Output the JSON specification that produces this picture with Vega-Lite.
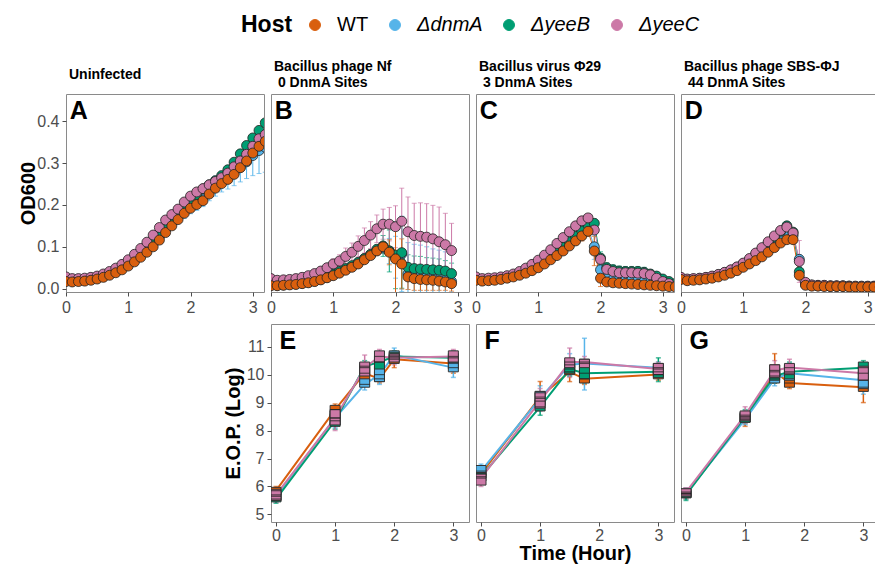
{
"$schema": "https://vega.github.io/schema/vega-lite/v6.json",
"background": "white",
"padding": {"left": 18, "top": 15, "right": 0, "bottom": 0},
"config": {
  "font": "Liberation Sans",
  "view": {"stroke": "#8a8a8a", "strokeWidth": 1},
  "axis": {"labelFont": "Liberation Sans", "labelFontSize": 16, "labelColor": "#4d4d4d", "tickColor": "#4d4d4d", "tickSize": 4, "domain": false, "grid": false, "titleFont": "Liberation Sans", "titleFontSize": 20, "titleFontWeight": "bold", "titleColor": "#000", "labelFlush": false, "labelOverlap": false, "labelPadding": 3, "titlePadding": 3},
  "title": {"font": "Liberation Sans", "fontSize": 14, "fontWeight": "bold", "anchor": "start", "frame": "group", "color": "#000", "lineHeight": 16, "dx": 3, "offset": 4},
  "legend": {"labelFont": "Liberation Sans", "labelFontSize": 20, "labelColor": "#000", "titleFont": "Liberation Sans", "titleFontSize": 23, "titleFontWeight": "bold", "titleColor": "#000", "symbolType": "circle", "symbolSize": 120, "symbolStrokeColor": "#333", "symbolStrokeWidth": 1, "columnPadding": 16, "labelOffset": 12}
},
"datasets": {
"od": [
{"p":"A","h":"dnmA","t":0,"y":0.02,"e":0.002},{"p":"A","h":"dnmA","t":0.1,"y":0.018,"e":0.002},{"p":"A","h":"dnmA","t":0.2,"y":0.019,"e":0.002},{"p":"A","h":"dnmA","t":0.3,"y":0.02,"e":0.002},{"p":"A","h":"dnmA","t":0.4,"y":0.022,"e":0.002},{"p":"A","h":"dnmA","t":0.5,"y":0.025,"e":0.002},{"p":"A","h":"dnmA","t":0.6,"y":0.029,"e":0.003},{"p":"A","h":"dnmA","t":0.7,"y":0.035,"e":0.003},{"p":"A","h":"dnmA","t":0.8,"y":0.041,"e":0.003},{"p":"A","h":"dnmA","t":0.9,"y":0.049,"e":0.004},{"p":"A","h":"dnmA","t":1,"y":0.058,"e":0.004},{"p":"A","h":"dnmA","t":1.1,"y":0.069,"e":0.005},{"p":"A","h":"dnmA","t":1.2,"y":0.081,"e":0.006},{"p":"A","h":"dnmA","t":1.3,"y":0.094,"e":0.007},{"p":"A","h":"dnmA","t":1.4,"y":0.108,"e":0.008},{"p":"A","h":"dnmA","t":1.5,"y":0.124,"e":0.01},{"p":"A","h":"dnmA","t":1.6,"y":0.142,"e":0.012},{"p":"A","h":"dnmA","t":1.7,"y":0.158,"e":0.014},{"p":"A","h":"dnmA","t":1.8,"y":0.172,"e":0.016},{"p":"A","h":"dnmA","t":1.9,"y":0.186,"e":0.018},{"p":"A","h":"dnmA","t":2,"y":0.198,"e":0.019},{"p":"A","h":"dnmA","t":2.1,"y":0.207,"e":0.02},{"p":"A","h":"dnmA","t":2.2,"y":0.217,"e":0.021},{"p":"A","h":"dnmA","t":2.3,"y":0.232,"e":0.022},{"p":"A","h":"dnmA","t":2.4,"y":0.245,"e":0.024},{"p":"A","h":"dnmA","t":2.5,"y":0.256,"e":0.025},{"p":"A","h":"dnmA","t":2.6,"y":0.265,"e":0.027},{"p":"A","h":"dnmA","t":2.7,"y":0.276,"e":0.03},{"p":"A","h":"dnmA","t":2.8,"y":0.29,"e":0.035},{"p":"A","h":"dnmA","t":2.9,"y":0.303,"e":0.04},{"p":"A","h":"dnmA","t":3,"y":0.318,"e":0.048},{"p":"A","h":"dnmA","t":3.1,"y":0.33,"e":0.055},{"p":"A","h":"dnmA","t":3.2,"y":0.338,"e":0.06},
{"p":"A","h":"yeeB","t":0,"y":0.022,"e":0.003},{"p":"A","h":"yeeB","t":0.1,"y":0.02,"e":0.003},{"p":"A","h":"yeeB","t":0.2,"y":0.021,"e":0.003},{"p":"A","h":"yeeB","t":0.3,"y":0.022,"e":0.003},{"p":"A","h":"yeeB","t":0.4,"y":0.024,"e":0.003},{"p":"A","h":"yeeB","t":0.5,"y":0.027,"e":0.003},{"p":"A","h":"yeeB","t":0.6,"y":0.031,"e":0.003},{"p":"A","h":"yeeB","t":0.7,"y":0.037,"e":0.003},{"p":"A","h":"yeeB","t":0.8,"y":0.044,"e":0.003},{"p":"A","h":"yeeB","t":0.9,"y":0.052,"e":0.003},{"p":"A","h":"yeeB","t":1,"y":0.062,"e":0.003},{"p":"A","h":"yeeB","t":1.1,"y":0.073,"e":0.003},{"p":"A","h":"yeeB","t":1.2,"y":0.086,"e":0.003},{"p":"A","h":"yeeB","t":1.3,"y":0.1,"e":0.003},{"p":"A","h":"yeeB","t":1.4,"y":0.115,"e":0.003},{"p":"A","h":"yeeB","t":1.5,"y":0.132,"e":0.003},{"p":"A","h":"yeeB","t":1.6,"y":0.15,"e":0.003},{"p":"A","h":"yeeB","t":1.7,"y":0.166,"e":0.003},{"p":"A","h":"yeeB","t":1.8,"y":0.18,"e":0.003},{"p":"A","h":"yeeB","t":1.9,"y":0.195,"e":0.003},{"p":"A","h":"yeeB","t":2,"y":0.21,"e":0.003},{"p":"A","h":"yeeB","t":2.1,"y":0.225,"e":0.004},{"p":"A","h":"yeeB","t":2.2,"y":0.238,"e":0.004},{"p":"A","h":"yeeB","t":2.3,"y":0.248,"e":0.004},{"p":"A","h":"yeeB","t":2.4,"y":0.258,"e":0.004},{"p":"A","h":"yeeB","t":2.5,"y":0.27,"e":0.004},{"p":"A","h":"yeeB","t":2.6,"y":0.284,"e":0.005},{"p":"A","h":"yeeB","t":2.7,"y":0.302,"e":0.005},{"p":"A","h":"yeeB","t":2.8,"y":0.322,"e":0.005},{"p":"A","h":"yeeB","t":2.9,"y":0.342,"e":0.005},{"p":"A","h":"yeeB","t":3,"y":0.36,"e":0.005},{"p":"A","h":"yeeB","t":3.1,"y":0.378,"e":0.005},{"p":"A","h":"yeeB","t":3.2,"y":0.396,"e":0.005},
{"p":"A","h":"yeeC","t":0,"y":0.028,"e":0.003},{"p":"A","h":"yeeC","t":0.1,"y":0.024,"e":0.003},{"p":"A","h":"yeeC","t":0.2,"y":0.024,"e":0.003},{"p":"A","h":"yeeC","t":0.3,"y":0.025,"e":0.003},{"p":"A","h":"yeeC","t":0.4,"y":0.027,"e":0.003},{"p":"A","h":"yeeC","t":0.5,"y":0.03,"e":0.003},{"p":"A","h":"yeeC","t":0.6,"y":0.035,"e":0.003},{"p":"A","h":"yeeC","t":0.7,"y":0.041,"e":0.003},{"p":"A","h":"yeeC","t":0.8,"y":0.049,"e":0.003},{"p":"A","h":"yeeC","t":0.9,"y":0.058,"e":0.003},{"p":"A","h":"yeeC","t":1,"y":0.069,"e":0.003},{"p":"A","h":"yeeC","t":1.1,"y":0.082,"e":0.003},{"p":"A","h":"yeeC","t":1.2,"y":0.096,"e":0.003},{"p":"A","h":"yeeC","t":1.3,"y":0.111,"e":0.003},{"p":"A","h":"yeeC","t":1.4,"y":0.128,"e":0.003},{"p":"A","h":"yeeC","t":1.5,"y":0.146,"e":0.003},{"p":"A","h":"yeeC","t":1.6,"y":0.164,"e":0.003},{"p":"A","h":"yeeC","t":1.7,"y":0.177,"e":0.003},{"p":"A","h":"yeeC","t":1.8,"y":0.19,"e":0.003},{"p":"A","h":"yeeC","t":1.9,"y":0.207,"e":0.003},{"p":"A","h":"yeeC","t":2,"y":0.221,"e":0.003},{"p":"A","h":"yeeC","t":2.1,"y":0.231,"e":0.004},{"p":"A","h":"yeeC","t":2.2,"y":0.239,"e":0.004},{"p":"A","h":"yeeC","t":2.3,"y":0.248,"e":0.004},{"p":"A","h":"yeeC","t":2.4,"y":0.256,"e":0.004},{"p":"A","h":"yeeC","t":2.5,"y":0.265,"e":0.004},{"p":"A","h":"yeeC","t":2.6,"y":0.276,"e":0.004},{"p":"A","h":"yeeC","t":2.7,"y":0.291,"e":0.004},{"p":"A","h":"yeeC","t":2.8,"y":0.305,"e":0.005},{"p":"A","h":"yeeC","t":2.9,"y":0.321,"e":0.005},{"p":"A","h":"yeeC","t":3,"y":0.34,"e":0.005},{"p":"A","h":"yeeC","t":3.1,"y":0.358,"e":0.005},{"p":"A","h":"yeeC","t":3.2,"y":0.368,"e":0.005},
{"p":"A","h":"WT","t":0,"y":0.017,"e":0.003},{"p":"A","h":"WT","t":0.1,"y":0.016,"e":0.003},{"p":"A","h":"WT","t":0.2,"y":0.017,"e":0.003},{"p":"A","h":"WT","t":0.3,"y":0.018,"e":0.003},{"p":"A","h":"WT","t":0.4,"y":0.02,"e":0.003},{"p":"A","h":"WT","t":0.5,"y":0.023,"e":0.003},{"p":"A","h":"WT","t":0.6,"y":0.027,"e":0.003},{"p":"A","h":"WT","t":0.7,"y":0.032,"e":0.003},{"p":"A","h":"WT","t":0.8,"y":0.038,"e":0.003},{"p":"A","h":"WT","t":0.9,"y":0.045,"e":0.003},{"p":"A","h":"WT","t":1,"y":0.054,"e":0.003},{"p":"A","h":"WT","t":1.1,"y":0.064,"e":0.003},{"p":"A","h":"WT","t":1.2,"y":0.075,"e":0.003},{"p":"A","h":"WT","t":1.3,"y":0.087,"e":0.003},{"p":"A","h":"WT","t":1.4,"y":0.1,"e":0.003},{"p":"A","h":"WT","t":1.5,"y":0.116,"e":0.003},{"p":"A","h":"WT","t":1.6,"y":0.134,"e":0.003},{"p":"A","h":"WT","t":1.7,"y":0.15,"e":0.003},{"p":"A","h":"WT","t":1.8,"y":0.165,"e":0.003},{"p":"A","h":"WT","t":1.9,"y":0.18,"e":0.003},{"p":"A","h":"WT","t":2,"y":0.192,"e":0.003},{"p":"A","h":"WT","t":2.1,"y":0.201,"e":0.004},{"p":"A","h":"WT","t":2.2,"y":0.21,"e":0.004},{"p":"A","h":"WT","t":2.3,"y":0.226,"e":0.004},{"p":"A","h":"WT","t":2.4,"y":0.24,"e":0.004},{"p":"A","h":"WT","t":2.5,"y":0.251,"e":0.004},{"p":"A","h":"WT","t":2.6,"y":0.261,"e":0.004},{"p":"A","h":"WT","t":2.7,"y":0.273,"e":0.004},{"p":"A","h":"WT","t":2.8,"y":0.289,"e":0.005},{"p":"A","h":"WT","t":2.9,"y":0.305,"e":0.005},{"p":"A","h":"WT","t":3,"y":0.324,"e":0.005},{"p":"A","h":"WT","t":3.1,"y":0.34,"e":0.005},{"p":"A","h":"WT","t":3.2,"y":0.352,"e":0.005},
{"p":"B","h":"dnmA","t":0,"y":0.009,"e":0.002},{"p":"B","h":"dnmA","t":0.1,"y":0.008,"e":0.002},{"p":"B","h":"dnmA","t":0.2,"y":0.009,"e":0.002},{"p":"B","h":"dnmA","t":0.3,"y":0.01,"e":0.002},{"p":"B","h":"dnmA","t":0.4,"y":0.011,"e":0.002},{"p":"B","h":"dnmA","t":0.5,"y":0.013,"e":0.002},{"p":"B","h":"dnmA","t":0.6,"y":0.015,"e":0.002},{"p":"B","h":"dnmA","t":0.7,"y":0.018,"e":0.003},{"p":"B","h":"dnmA","t":0.8,"y":0.022,"e":0.003},{"p":"B","h":"dnmA","t":0.9,"y":0.027,"e":0.003},{"p":"B","h":"dnmA","t":1,"y":0.033,"e":0.004},{"p":"B","h":"dnmA","t":1.1,"y":0.039,"e":0.004},{"p":"B","h":"dnmA","t":1.2,"y":0.046,"e":0.005},{"p":"B","h":"dnmA","t":1.3,"y":0.053,"e":0.005},{"p":"B","h":"dnmA","t":1.4,"y":0.061,"e":0.006},{"p":"B","h":"dnmA","t":1.5,"y":0.071,"e":0.006},{"p":"B","h":"dnmA","t":1.6,"y":0.081,"e":0.007},{"p":"B","h":"dnmA","t":1.7,"y":0.091,"e":0.008},{"p":"B","h":"dnmA","t":1.8,"y":0.097,"e":0.01},{"p":"B","h":"dnmA","t":1.9,"y":0.09,"e":0.03},{"p":"B","h":"dnmA","t":2,"y":0.075,"e":0.05},{"p":"B","h":"dnmA","t":2.1,"y":0.083,"e":0.09},{"p":"B","h":"dnmA","t":2.2,"y":0.035,"e":0.075},{"p":"B","h":"dnmA","t":2.3,"y":0.031,"e":0.075},{"p":"B","h":"dnmA","t":2.4,"y":0.029,"e":0.075},{"p":"B","h":"dnmA","t":2.5,"y":0.027,"e":0.073},{"p":"B","h":"dnmA","t":2.6,"y":0.025,"e":0.07},{"p":"B","h":"dnmA","t":2.7,"y":0.022,"e":0.07},{"p":"B","h":"dnmA","t":2.8,"y":0.02,"e":0.068},{"p":"B","h":"dnmA","t":2.9,"y":0.017,"e":0.065},
{"p":"B","h":"yeeB","t":0,"y":0.01,"e":0.002},{"p":"B","h":"yeeB","t":0.1,"y":0.009,"e":0.002},{"p":"B","h":"yeeB","t":0.2,"y":0.01,"e":0.002},{"p":"B","h":"yeeB","t":0.3,"y":0.011,"e":0.002},{"p":"B","h":"yeeB","t":0.4,"y":0.012,"e":0.002},{"p":"B","h":"yeeB","t":0.5,"y":0.014,"e":0.002},{"p":"B","h":"yeeB","t":0.6,"y":0.017,"e":0.002},{"p":"B","h":"yeeB","t":0.7,"y":0.02,"e":0.002},{"p":"B","h":"yeeB","t":0.8,"y":0.024,"e":0.002},{"p":"B","h":"yeeB","t":0.9,"y":0.029,"e":0.002},{"p":"B","h":"yeeB","t":1,"y":0.035,"e":0.003},{"p":"B","h":"yeeB","t":1.1,"y":0.041,"e":0.003},{"p":"B","h":"yeeB","t":1.2,"y":0.048,"e":0.004},{"p":"B","h":"yeeB","t":1.3,"y":0.055,"e":0.004},{"p":"B","h":"yeeB","t":1.4,"y":0.063,"e":0.005},{"p":"B","h":"yeeB","t":1.5,"y":0.072,"e":0.006},{"p":"B","h":"yeeB","t":1.6,"y":0.082,"e":0.007},{"p":"B","h":"yeeB","t":1.7,"y":0.094,"e":0.01},{"p":"B","h":"yeeB","t":1.8,"y":0.102,"e":0.025},{"p":"B","h":"yeeB","t":1.9,"y":0.09,"e":0.05},{"p":"B","h":"yeeB","t":2,"y":0.08,"e":0.08},{"p":"B","h":"yeeB","t":2.1,"y":0.086,"e":0.085},{"p":"B","h":"yeeB","t":2.2,"y":0.051,"e":0.03},{"p":"B","h":"yeeB","t":2.3,"y":0.048,"e":0.03},{"p":"B","h":"yeeB","t":2.4,"y":0.047,"e":0.03},{"p":"B","h":"yeeB","t":2.5,"y":0.046,"e":0.028},{"p":"B","h":"yeeB","t":2.6,"y":0.045,"e":0.028},{"p":"B","h":"yeeB","t":2.7,"y":0.044,"e":0.027},{"p":"B","h":"yeeB","t":2.8,"y":0.042,"e":0.025},{"p":"B","h":"yeeB","t":2.9,"y":0.036,"e":0.025},
{"p":"B","h":"yeeC","t":0,"y":0.024,"e":0.003},{"p":"B","h":"yeeC","t":0.1,"y":0.02,"e":0.003},{"p":"B","h":"yeeC","t":0.2,"y":0.021,"e":0.004},{"p":"B","h":"yeeC","t":0.3,"y":0.022,"e":0.004},{"p":"B","h":"yeeC","t":0.4,"y":0.024,"e":0.005},{"p":"B","h":"yeeC","t":0.5,"y":0.027,"e":0.006},{"p":"B","h":"yeeC","t":0.6,"y":0.031,"e":0.007},{"p":"B","h":"yeeC","t":0.7,"y":0.036,"e":0.008},{"p":"B","h":"yeeC","t":0.8,"y":0.042,"e":0.009},{"p":"B","h":"yeeC","t":0.9,"y":0.05,"e":0.01},{"p":"B","h":"yeeC","t":1,"y":0.059,"e":0.012},{"p":"B","h":"yeeC","t":1.1,"y":0.066,"e":0.015},{"p":"B","h":"yeeC","t":1.2,"y":0.077,"e":0.02},{"p":"B","h":"yeeC","t":1.3,"y":0.087,"e":0.022},{"p":"B","h":"yeeC","t":1.4,"y":0.101,"e":0.025},{"p":"B","h":"yeeC","t":1.5,"y":0.115,"e":0.03},{"p":"B","h":"yeeC","t":1.6,"y":0.128,"e":0.032},{"p":"B","h":"yeeC","t":1.7,"y":0.143,"e":0.033},{"p":"B","h":"yeeC","t":1.8,"y":0.154,"e":0.036},{"p":"B","h":"yeeC","t":1.9,"y":0.154,"e":0.04},{"p":"B","h":"yeeC","t":2,"y":0.148,"e":0.05},{"p":"B","h":"yeeC","t":2.1,"y":0.161,"e":0.079},{"p":"B","h":"yeeC","t":2.2,"y":0.136,"e":0.083},{"p":"B","h":"yeeC","t":2.3,"y":0.127,"e":0.077},{"p":"B","h":"yeeC","t":2.4,"y":0.125,"e":0.08},{"p":"B","h":"yeeC","t":2.5,"y":0.123,"e":0.08},{"p":"B","h":"yeeC","t":2.6,"y":0.119,"e":0.08},{"p":"B","h":"yeeC","t":2.7,"y":0.112,"e":0.083},{"p":"B","h":"yeeC","t":2.8,"y":0.105,"e":0.075},{"p":"B","h":"yeeC","t":2.9,"y":0.091,"e":0.065},
{"p":"B","h":"WT","t":0,"y":0.007,"e":0.002},{"p":"B","h":"WT","t":0.1,"y":0.007,"e":0.002},{"p":"B","h":"WT","t":0.2,"y":0.008,"e":0.002},{"p":"B","h":"WT","t":0.3,"y":0.009,"e":0.002},{"p":"B","h":"WT","t":0.4,"y":0.01,"e":0.002},{"p":"B","h":"WT","t":0.5,"y":0.012,"e":0.002},{"p":"B","h":"WT","t":0.6,"y":0.014,"e":0.002},{"p":"B","h":"WT","t":0.7,"y":0.017,"e":0.002},{"p":"B","h":"WT","t":0.8,"y":0.021,"e":0.002},{"p":"B","h":"WT","t":0.9,"y":0.026,"e":0.002},{"p":"B","h":"WT","t":1,"y":0.031,"e":0.003},{"p":"B","h":"WT","t":1.1,"y":0.037,"e":0.003},{"p":"B","h":"WT","t":1.2,"y":0.044,"e":0.003},{"p":"B","h":"WT","t":1.3,"y":0.051,"e":0.004},{"p":"B","h":"WT","t":1.4,"y":0.059,"e":0.004},{"p":"B","h":"WT","t":1.5,"y":0.069,"e":0.005},{"p":"B","h":"WT","t":1.6,"y":0.079,"e":0.006},{"p":"B","h":"WT","t":1.7,"y":0.09,"e":0.008},{"p":"B","h":"WT","t":1.8,"y":0.1,"e":0.01},{"p":"B","h":"WT","t":1.9,"y":0.087,"e":0.03},{"p":"B","h":"WT","t":2,"y":0.071,"e":0.083},{"p":"B","h":"WT","t":2.1,"y":0.059,"e":0.06},{"p":"B","h":"WT","t":2.2,"y":0.028,"e":0.03},{"p":"B","h":"WT","t":2.3,"y":0.024,"e":0.028},{"p":"B","h":"WT","t":2.4,"y":0.022,"e":0.026},{"p":"B","h":"WT","t":2.5,"y":0.021,"e":0.025},{"p":"B","h":"WT","t":2.6,"y":0.02,"e":0.024},{"p":"B","h":"WT","t":2.7,"y":0.018,"e":0.022},{"p":"B","h":"WT","t":2.8,"y":0.016,"e":0.02},{"p":"B","h":"WT","t":2.9,"y":0.012,"e":0.018},
{"p":"C","h":"dnmA","t":0,"y":0.022,"e":0.003},{"p":"C","h":"dnmA","t":0.1,"y":0.02,"e":0.003},{"p":"C","h":"dnmA","t":0.2,"y":0.021,"e":0.003},{"p":"C","h":"dnmA","t":0.3,"y":0.022,"e":0.003},{"p":"C","h":"dnmA","t":0.4,"y":0.024,"e":0.003},{"p":"C","h":"dnmA","t":0.5,"y":0.027,"e":0.003},{"p":"C","h":"dnmA","t":0.6,"y":0.031,"e":0.003},{"p":"C","h":"dnmA","t":0.7,"y":0.035,"e":0.003},{"p":"C","h":"dnmA","t":0.8,"y":0.041,"e":0.003},{"p":"C","h":"dnmA","t":0.9,"y":0.048,"e":0.003},{"p":"C","h":"dnmA","t":1,"y":0.056,"e":0.003},{"p":"C","h":"dnmA","t":1.1,"y":0.065,"e":0.004},{"p":"C","h":"dnmA","t":1.2,"y":0.075,"e":0.004},{"p":"C","h":"dnmA","t":1.3,"y":0.086,"e":0.004},{"p":"C","h":"dnmA","t":1.4,"y":0.097,"e":0.005},{"p":"C","h":"dnmA","t":1.5,"y":0.109,"e":0.005},{"p":"C","h":"dnmA","t":1.6,"y":0.121,"e":0.006},{"p":"C","h":"dnmA","t":1.7,"y":0.134,"e":0.006},{"p":"C","h":"dnmA","t":1.8,"y":0.146,"e":0.008},{"p":"C","h":"dnmA","t":1.9,"y":0.1,"e":0.03},{"p":"C","h":"dnmA","t":2,"y":0.045,"e":0.02},{"p":"C","h":"dnmA","t":2.1,"y":0.024,"e":0.005},{"p":"C","h":"dnmA","t":2.2,"y":0.022,"e":0.004},{"p":"C","h":"dnmA","t":2.3,"y":0.021,"e":0.004},{"p":"C","h":"dnmA","t":2.4,"y":0.021,"e":0.004},{"p":"C","h":"dnmA","t":2.5,"y":0.02,"e":0.004},{"p":"C","h":"dnmA","t":2.6,"y":0.019,"e":0.004},{"p":"C","h":"dnmA","t":2.7,"y":0.017,"e":0.004},{"p":"C","h":"dnmA","t":2.8,"y":0.015,"e":0.004},{"p":"C","h":"dnmA","t":2.9,"y":0.013,"e":0.004},{"p":"C","h":"dnmA","t":3,"y":0.011,"e":0.004},{"p":"C","h":"dnmA","t":3.1,"y":0.009,"e":0.004},{"p":"C","h":"dnmA","t":3.2,"y":0.008,"e":0.004},
{"p":"C","h":"yeeB","t":0,"y":0.024,"e":0.003},{"p":"C","h":"yeeB","t":0.1,"y":0.021,"e":0.003},{"p":"C","h":"yeeB","t":0.2,"y":0.022,"e":0.003},{"p":"C","h":"yeeB","t":0.3,"y":0.023,"e":0.003},{"p":"C","h":"yeeB","t":0.4,"y":0.025,"e":0.003},{"p":"C","h":"yeeB","t":0.5,"y":0.028,"e":0.003},{"p":"C","h":"yeeB","t":0.6,"y":0.032,"e":0.003},{"p":"C","h":"yeeB","t":0.7,"y":0.037,"e":0.003},{"p":"C","h":"yeeB","t":0.8,"y":0.043,"e":0.003},{"p":"C","h":"yeeB","t":0.9,"y":0.05,"e":0.003},{"p":"C","h":"yeeB","t":1,"y":0.058,"e":0.003},{"p":"C","h":"yeeB","t":1.1,"y":0.067,"e":0.003},{"p":"C","h":"yeeB","t":1.2,"y":0.077,"e":0.003},{"p":"C","h":"yeeB","t":1.3,"y":0.088,"e":0.003},{"p":"C","h":"yeeB","t":1.4,"y":0.1,"e":0.004},{"p":"C","h":"yeeB","t":1.5,"y":0.112,"e":0.004},{"p":"C","h":"yeeB","t":1.6,"y":0.125,"e":0.005},{"p":"C","h":"yeeB","t":1.7,"y":0.138,"e":0.005},{"p":"C","h":"yeeB","t":1.8,"y":0.152,"e":0.006},{"p":"C","h":"yeeB","t":1.9,"y":0.156,"e":0.01},{"p":"C","h":"yeeB","t":2,"y":0.073,"e":0.015},{"p":"C","h":"yeeB","t":2.1,"y":0.05,"e":0.012},{"p":"C","h":"yeeB","t":2.2,"y":0.045,"e":0.012},{"p":"C","h":"yeeB","t":2.3,"y":0.042,"e":0.012},{"p":"C","h":"yeeB","t":2.4,"y":0.041,"e":0.012},{"p":"C","h":"yeeB","t":2.5,"y":0.041,"e":0.012},{"p":"C","h":"yeeB","t":2.6,"y":0.041,"e":0.012},{"p":"C","h":"yeeB","t":2.7,"y":0.039,"e":0.012},{"p":"C","h":"yeeB","t":2.8,"y":0.035,"e":0.01},{"p":"C","h":"yeeB","t":2.9,"y":0.03,"e":0.008},{"p":"C","h":"yeeB","t":3,"y":0.023,"e":0.006},{"p":"C","h":"yeeB","t":3.1,"y":0.017,"e":0.005},{"p":"C","h":"yeeB","t":3.2,"y":0.012,"e":0.004},
{"p":"C","h":"yeeC","t":0,"y":0.028,"e":0.003},{"p":"C","h":"yeeC","t":0.1,"y":0.024,"e":0.003},{"p":"C","h":"yeeC","t":0.2,"y":0.025,"e":0.003},{"p":"C","h":"yeeC","t":0.3,"y":0.026,"e":0.003},{"p":"C","h":"yeeC","t":0.4,"y":0.028,"e":0.003},{"p":"C","h":"yeeC","t":0.5,"y":0.031,"e":0.003},{"p":"C","h":"yeeC","t":0.6,"y":0.035,"e":0.003},{"p":"C","h":"yeeC","t":0.7,"y":0.041,"e":0.003},{"p":"C","h":"yeeC","t":0.8,"y":0.049,"e":0.003},{"p":"C","h":"yeeC","t":0.9,"y":0.058,"e":0.003},{"p":"C","h":"yeeC","t":1,"y":0.068,"e":0.003},{"p":"C","h":"yeeC","t":1.1,"y":0.08,"e":0.003},{"p":"C","h":"yeeC","t":1.2,"y":0.093,"e":0.003},{"p":"C","h":"yeeC","t":1.3,"y":0.108,"e":0.003},{"p":"C","h":"yeeC","t":1.4,"y":0.122,"e":0.004},{"p":"C","h":"yeeC","t":1.5,"y":0.136,"e":0.004},{"p":"C","h":"yeeC","t":1.6,"y":0.15,"e":0.004},{"p":"C","h":"yeeC","t":1.7,"y":0.162,"e":0.004},{"p":"C","h":"yeeC","t":1.8,"y":0.169,"e":0.004},{"p":"C","h":"yeeC","t":1.9,"y":0.14,"e":0.006},{"p":"C","h":"yeeC","t":2,"y":0.07,"e":0.006},{"p":"C","h":"yeeC","t":2.1,"y":0.046,"e":0.004},{"p":"C","h":"yeeC","t":2.2,"y":0.041,"e":0.004},{"p":"C","h":"yeeC","t":2.3,"y":0.038,"e":0.004},{"p":"C","h":"yeeC","t":2.4,"y":0.038,"e":0.004},{"p":"C","h":"yeeC","t":2.5,"y":0.038,"e":0.004},{"p":"C","h":"yeeC","t":2.6,"y":0.037,"e":0.004},{"p":"C","h":"yeeC","t":2.7,"y":0.036,"e":0.004},{"p":"C","h":"yeeC","t":2.8,"y":0.033,"e":0.004},{"p":"C","h":"yeeC","t":2.9,"y":0.025,"e":0.004},{"p":"C","h":"yeeC","t":3,"y":0.017,"e":0.004},{"p":"C","h":"yeeC","t":3.1,"y":0.012,"e":0.003},{"p":"C","h":"yeeC","t":3.2,"y":0.006,"e":0.003},
{"p":"C","h":"WT","t":0,"y":0.02,"e":0.003},{"p":"C","h":"WT","t":0.1,"y":0.018,"e":0.003},{"p":"C","h":"WT","t":0.2,"y":0.019,"e":0.003},{"p":"C","h":"WT","t":0.3,"y":0.02,"e":0.003},{"p":"C","h":"WT","t":0.4,"y":0.022,"e":0.003},{"p":"C","h":"WT","t":0.5,"y":0.025,"e":0.003},{"p":"C","h":"WT","t":0.6,"y":0.028,"e":0.003},{"p":"C","h":"WT","t":0.7,"y":0.032,"e":0.003},{"p":"C","h":"WT","t":0.8,"y":0.037,"e":0.003},{"p":"C","h":"WT","t":0.9,"y":0.043,"e":0.003},{"p":"C","h":"WT","t":1,"y":0.05,"e":0.004},{"p":"C","h":"WT","t":1.1,"y":0.059,"e":0.004},{"p":"C","h":"WT","t":1.2,"y":0.069,"e":0.005},{"p":"C","h":"WT","t":1.3,"y":0.079,"e":0.005},{"p":"C","h":"WT","t":1.4,"y":0.09,"e":0.006},{"p":"C","h":"WT","t":1.5,"y":0.102,"e":0.008},{"p":"C","h":"WT","t":1.6,"y":0.114,"e":0.01},{"p":"C","h":"WT","t":1.7,"y":0.126,"e":0.012},{"p":"C","h":"WT","t":1.8,"y":0.137,"e":0.012},{"p":"C","h":"WT","t":1.9,"y":0.09,"e":0.035},{"p":"C","h":"WT","t":2,"y":0.025,"e":0.02},{"p":"C","h":"WT","t":2.1,"y":0.016,"e":0.003},{"p":"C","h":"WT","t":2.2,"y":0.014,"e":0.003},{"p":"C","h":"WT","t":2.3,"y":0.013,"e":0.003},{"p":"C","h":"WT","t":2.4,"y":0.012,"e":0.003},{"p":"C","h":"WT","t":2.5,"y":0.011,"e":0.003},{"p":"C","h":"WT","t":2.6,"y":0.01,"e":0.003},{"p":"C","h":"WT","t":2.7,"y":0.009,"e":0.003},{"p":"C","h":"WT","t":2.8,"y":0.008,"e":0.003},{"p":"C","h":"WT","t":2.9,"y":0.007,"e":0.003},{"p":"C","h":"WT","t":3,"y":0.006,"e":0.003},{"p":"C","h":"WT","t":3.1,"y":0.005,"e":0.003},{"p":"C","h":"WT","t":3.2,"y":0.004,"e":0.003},
{"p":"D","h":"dnmA","t":0,"y":0.024,"e":0.003},{"p":"D","h":"dnmA","t":0.1,"y":0.021,"e":0.003},{"p":"D","h":"dnmA","t":0.2,"y":0.022,"e":0.003},{"p":"D","h":"dnmA","t":0.3,"y":0.023,"e":0.003},{"p":"D","h":"dnmA","t":0.4,"y":0.025,"e":0.003},{"p":"D","h":"dnmA","t":0.5,"y":0.028,"e":0.003},{"p":"D","h":"dnmA","t":0.6,"y":0.031,"e":0.003},{"p":"D","h":"dnmA","t":0.7,"y":0.036,"e":0.003},{"p":"D","h":"dnmA","t":0.8,"y":0.041,"e":0.003},{"p":"D","h":"dnmA","t":0.9,"y":0.048,"e":0.003},{"p":"D","h":"dnmA","t":1,"y":0.056,"e":0.003},{"p":"D","h":"dnmA","t":1.1,"y":0.065,"e":0.003},{"p":"D","h":"dnmA","t":1.2,"y":0.074,"e":0.003},{"p":"D","h":"dnmA","t":1.3,"y":0.084,"e":0.004},{"p":"D","h":"dnmA","t":1.4,"y":0.095,"e":0.004},{"p":"D","h":"dnmA","t":1.5,"y":0.107,"e":0.004},{"p":"D","h":"dnmA","t":1.6,"y":0.119,"e":0.005},{"p":"D","h":"dnmA","t":1.7,"y":0.132,"e":0.005},{"p":"D","h":"dnmA","t":1.8,"y":0.127,"e":0.006},{"p":"D","h":"dnmA","t":1.9,"y":0.07,"e":0.01},{"p":"D","h":"dnmA","t":2,"y":0.012,"e":0.004},{"p":"D","h":"dnmA","t":2.1,"y":0.008,"e":0.003},{"p":"D","h":"dnmA","t":2.2,"y":0.007,"e":0.003},{"p":"D","h":"dnmA","t":2.3,"y":0.007,"e":0.003},{"p":"D","h":"dnmA","t":2.4,"y":0.006,"e":0.003},{"p":"D","h":"dnmA","t":2.5,"y":0.006,"e":0.003},{"p":"D","h":"dnmA","t":2.6,"y":0.006,"e":0.003},{"p":"D","h":"dnmA","t":2.7,"y":0.005,"e":0.003},{"p":"D","h":"dnmA","t":2.8,"y":0.005,"e":0.003},{"p":"D","h":"dnmA","t":2.9,"y":0.005,"e":0.003},{"p":"D","h":"dnmA","t":3,"y":0.005,"e":0.003},{"p":"D","h":"dnmA","t":3.1,"y":0.005,"e":0.003},{"p":"D","h":"dnmA","t":3.2,"y":0.005,"e":0.003},
{"p":"D","h":"yeeB","t":0,"y":0.025,"e":0.003},{"p":"D","h":"yeeB","t":0.1,"y":0.022,"e":0.003},{"p":"D","h":"yeeB","t":0.2,"y":0.023,"e":0.003},{"p":"D","h":"yeeB","t":0.3,"y":0.024,"e":0.003},{"p":"D","h":"yeeB","t":0.4,"y":0.026,"e":0.003},{"p":"D","h":"yeeB","t":0.5,"y":0.029,"e":0.003},{"p":"D","h":"yeeB","t":0.6,"y":0.033,"e":0.003},{"p":"D","h":"yeeB","t":0.7,"y":0.038,"e":0.003},{"p":"D","h":"yeeB","t":0.8,"y":0.044,"e":0.003},{"p":"D","h":"yeeB","t":0.9,"y":0.051,"e":0.003},{"p":"D","h":"yeeB","t":1,"y":0.06,"e":0.003},{"p":"D","h":"yeeB","t":1.1,"y":0.07,"e":0.003},{"p":"D","h":"yeeB","t":1.2,"y":0.082,"e":0.003},{"p":"D","h":"yeeB","t":1.3,"y":0.095,"e":0.003},{"p":"D","h":"yeeB","t":1.4,"y":0.109,"e":0.004},{"p":"D","h":"yeeB","t":1.5,"y":0.123,"e":0.004},{"p":"D","h":"yeeB","t":1.6,"y":0.137,"e":0.004},{"p":"D","h":"yeeB","t":1.7,"y":0.15,"e":0.004},{"p":"D","h":"yeeB","t":1.8,"y":0.135,"e":0.006},{"p":"D","h":"yeeB","t":1.9,"y":0.04,"e":0.01},{"p":"D","h":"yeeB","t":2,"y":0.01,"e":0.003},{"p":"D","h":"yeeB","t":2.1,"y":0.008,"e":0.003},{"p":"D","h":"yeeB","t":2.2,"y":0.007,"e":0.003},{"p":"D","h":"yeeB","t":2.3,"y":0.007,"e":0.003},{"p":"D","h":"yeeB","t":2.4,"y":0.006,"e":0.003},{"p":"D","h":"yeeB","t":2.5,"y":0.006,"e":0.003},{"p":"D","h":"yeeB","t":2.6,"y":0.006,"e":0.003},{"p":"D","h":"yeeB","t":2.7,"y":0.006,"e":0.003},{"p":"D","h":"yeeB","t":2.8,"y":0.005,"e":0.003},{"p":"D","h":"yeeB","t":2.9,"y":0.005,"e":0.003},{"p":"D","h":"yeeB","t":3,"y":0.005,"e":0.003},{"p":"D","h":"yeeB","t":3.1,"y":0.005,"e":0.003},{"p":"D","h":"yeeB","t":3.2,"y":0.005,"e":0.003},
{"p":"D","h":"yeeC","t":0,"y":0.027,"e":0.003},{"p":"D","h":"yeeC","t":0.1,"y":0.023,"e":0.003},{"p":"D","h":"yeeC","t":0.2,"y":0.024,"e":0.003},{"p":"D","h":"yeeC","t":0.3,"y":0.025,"e":0.003},{"p":"D","h":"yeeC","t":0.4,"y":0.027,"e":0.003},{"p":"D","h":"yeeC","t":0.5,"y":0.03,"e":0.003},{"p":"D","h":"yeeC","t":0.6,"y":0.034,"e":0.003},{"p":"D","h":"yeeC","t":0.7,"y":0.039,"e":0.003},{"p":"D","h":"yeeC","t":0.8,"y":0.045,"e":0.003},{"p":"D","h":"yeeC","t":0.9,"y":0.052,"e":0.003},{"p":"D","h":"yeeC","t":1,"y":0.061,"e":0.003},{"p":"D","h":"yeeC","t":1.1,"y":0.072,"e":0.003},{"p":"D","h":"yeeC","t":1.2,"y":0.085,"e":0.003},{"p":"D","h":"yeeC","t":1.3,"y":0.098,"e":0.003},{"p":"D","h":"yeeC","t":1.4,"y":0.112,"e":0.003},{"p":"D","h":"yeeC","t":1.5,"y":0.126,"e":0.003},{"p":"D","h":"yeeC","t":1.6,"y":0.139,"e":0.003},{"p":"D","h":"yeeC","t":1.7,"y":0.147,"e":0.004},{"p":"D","h":"yeeC","t":1.8,"y":0.133,"e":0.01},{"p":"D","h":"yeeC","t":1.9,"y":0.065,"e":0.05},{"p":"D","h":"yeeC","t":2,"y":0.015,"e":0.004},{"p":"D","h":"yeeC","t":2.1,"y":0.009,"e":0.003},{"p":"D","h":"yeeC","t":2.2,"y":0.008,"e":0.003},{"p":"D","h":"yeeC","t":2.3,"y":0.008,"e":0.003},{"p":"D","h":"yeeC","t":2.4,"y":0.007,"e":0.003},{"p":"D","h":"yeeC","t":2.5,"y":0.007,"e":0.003},{"p":"D","h":"yeeC","t":2.6,"y":0.007,"e":0.003},{"p":"D","h":"yeeC","t":2.7,"y":0.006,"e":0.003},{"p":"D","h":"yeeC","t":2.8,"y":0.006,"e":0.003},{"p":"D","h":"yeeC","t":2.9,"y":0.006,"e":0.003},{"p":"D","h":"yeeC","t":3,"y":0.006,"e":0.003},{"p":"D","h":"yeeC","t":3.1,"y":0.006,"e":0.003},{"p":"D","h":"yeeC","t":3.2,"y":0.006,"e":0.003},
{"p":"D","h":"WT","t":0,"y":0.022,"e":0.003},{"p":"D","h":"WT","t":0.1,"y":0.019,"e":0.003},{"p":"D","h":"WT","t":0.2,"y":0.02,"e":0.003},{"p":"D","h":"WT","t":0.3,"y":0.021,"e":0.003},{"p":"D","h":"WT","t":0.4,"y":0.023,"e":0.003},{"p":"D","h":"WT","t":0.5,"y":0.025,"e":0.003},{"p":"D","h":"WT","t":0.6,"y":0.028,"e":0.003},{"p":"D","h":"WT","t":0.7,"y":0.032,"e":0.003},{"p":"D","h":"WT","t":0.8,"y":0.037,"e":0.003},{"p":"D","h":"WT","t":0.9,"y":0.043,"e":0.003},{"p":"D","h":"WT","t":1,"y":0.051,"e":0.003},{"p":"D","h":"WT","t":1.1,"y":0.059,"e":0.003},{"p":"D","h":"WT","t":1.2,"y":0.067,"e":0.004},{"p":"D","h":"WT","t":1.3,"y":0.076,"e":0.004},{"p":"D","h":"WT","t":1.4,"y":0.087,"e":0.005},{"p":"D","h":"WT","t":1.5,"y":0.098,"e":0.006},{"p":"D","h":"WT","t":1.6,"y":0.109,"e":0.007},{"p":"D","h":"WT","t":1.7,"y":0.117,"e":0.008},{"p":"D","h":"WT","t":1.8,"y":0.117,"e":0.008},{"p":"D","h":"WT","t":1.9,"y":0.032,"e":0.01},{"p":"D","h":"WT","t":2,"y":0.008,"e":0.003},{"p":"D","h":"WT","t":2.1,"y":0.006,"e":0.003},{"p":"D","h":"WT","t":2.2,"y":0.006,"e":0.003},{"p":"D","h":"WT","t":2.3,"y":0.005,"e":0.003},{"p":"D","h":"WT","t":2.4,"y":0.005,"e":0.003},{"p":"D","h":"WT","t":2.5,"y":0.005,"e":0.003},{"p":"D","h":"WT","t":2.6,"y":0.005,"e":0.003},{"p":"D","h":"WT","t":2.7,"y":0.004,"e":0.003},{"p":"D","h":"WT","t":2.8,"y":0.004,"e":0.003},{"p":"D","h":"WT","t":2.9,"y":0.004,"e":0.003},{"p":"D","h":"WT","t":3,"y":0.004,"e":0.003},{"p":"D","h":"WT","t":3.1,"y":0.004,"e":0.003},{"p":"D","h":"WT","t":3.2,"y":0.004,"e":0.003}
],
"eop": [
{"p":"E","h":"WT","t":0,"m":5.85,"q1":5.7,"q3":5.97,"lo":5.6,"hi":6.0},{"p":"E","h":"WT","t":1,"m":8.75,"q1":8.5,"q3":8.9,"lo":8.4,"hi":8.95},{"p":"E","h":"WT","t":1.5,"m":10.05,"q1":9.8,"q3":10.3,"lo":9.7,"hi":10.4},{"p":"E","h":"WT","t":1.75,"m":9.85,"q1":9.75,"q3":10.1,"lo":9.7,"hi":10.2},{"p":"E","h":"WT","t":2,"m":10.55,"q1":10.4,"q3":10.7,"lo":10.25,"hi":10.75},{"p":"E","h":"WT","t":3,"m":10.4,"q1":10.2,"q3":10.6,"lo":10.05,"hi":10.7},
{"p":"E","h":"dnmA","t":0,"m":5.65,"q1":5.5,"q3":5.8,"lo":5.45,"hi":5.85},{"p":"E","h":"dnmA","t":1,"m":8.45,"q1":8.2,"q3":8.7,"lo":8.1,"hi":8.75},{"p":"E","h":"dnmA","t":1.5,"m":9.65,"q1":9.55,"q3":9.85,"lo":9.45,"hi":9.95},{"p":"E","h":"dnmA","t":1.75,"m":10.0,"q1":9.75,"q3":10.3,"lo":9.65,"hi":10.45},{"p":"E","h":"dnmA","t":2,"m":10.7,"q1":10.5,"q3":10.85,"lo":10.4,"hi":10.95},{"p":"E","h":"dnmA","t":3,"m":10.25,"q1":10.1,"q3":10.45,"lo":9.9,"hi":10.55},
{"p":"E","h":"yeeB","t":0,"m":5.55,"q1":5.45,"q3":5.75,"lo":5.4,"hi":5.8},{"p":"E","h":"yeeB","t":1,"m":8.35,"q1":8.15,"q3":8.6,"lo":8.05,"hi":8.7},{"p":"E","h":"yeeB","t":1.5,"m":10.3,"q1":10.0,"q3":10.4,"lo":9.9,"hi":10.5},{"p":"E","h":"yeeB","t":1.75,"m":10.45,"q1":10.2,"q3":10.65,"lo":10.05,"hi":10.75},{"p":"E","h":"yeeB","t":2,"m":10.65,"q1":10.5,"q3":10.8,"lo":10.45,"hi":10.85},{"p":"E","h":"yeeB","t":3,"m":10.6,"q1":10.45,"q3":10.75,"lo":10.35,"hi":10.85},
{"p":"E","h":"yeeC","t":0,"m":5.7,"q1":5.5,"q3":5.9,"lo":5.45,"hi":5.95},{"p":"E","h":"yeeC","t":1,"m":8.45,"q1":8.2,"q3":8.75,"lo":8.0,"hi":8.85},{"p":"E","h":"yeeC","t":1.5,"m":10.25,"q1":9.95,"q3":10.45,"lo":9.8,"hi":10.7},{"p":"E","h":"yeeC","t":1.75,"m":10.65,"q1":10.45,"q3":10.85,"lo":10.3,"hi":10.9},{"p":"E","h":"yeeC","t":2,"m":10.6,"q1":10.45,"q3":10.75,"lo":10.35,"hi":10.8},{"p":"E","h":"yeeC","t":3,"m":10.65,"q1":10.45,"q3":10.85,"lo":10.35,"hi":10.9},
{"p":"F","h":"WT","t":0,"m":6.45,"q1":6.3,"q3":6.6,"lo":6.25,"hi":6.65},{"p":"F","h":"WT","t":1,"m":9.2,"q1":8.95,"q3":9.4,"lo":8.85,"hi":9.75},{"p":"F","h":"WT","t":1.5,"m":10.1,"q1":10.0,"q3":10.3,"lo":9.75,"hi":10.4},{"p":"F","h":"WT","t":1.75,"m":9.85,"q1":9.7,"q3":10.05,"lo":9.65,"hi":10.15},{"p":"F","h":"WT","t":3,"m":10.0,"q1":9.85,"q3":10.15,"lo":9.8,"hi":10.2},
{"p":"F","h":"dnmA","t":0,"m":6.55,"q1":6.4,"q3":6.75,"lo":6.35,"hi":6.8},{"p":"F","h":"dnmA","t":1,"m":9.15,"q1":8.9,"q3":9.4,"lo":8.8,"hi":9.6},{"p":"F","h":"dnmA","t":1.5,"m":10.35,"q1":10.15,"q3":10.5,"lo":9.95,"hi":10.75},{"p":"F","h":"dnmA","t":1.75,"m":10.4,"q1":10.0,"q3":10.55,"lo":9.45,"hi":11.3},{"p":"F","h":"dnmA","t":3,"m":10.25,"q1":10.05,"q3":10.4,"lo":9.95,"hi":10.45},
{"p":"F","h":"yeeB","t":0,"m":6.35,"q1":6.2,"q3":6.5,"lo":6.15,"hi":6.55},{"p":"F","h":"yeeB","t":1,"m":8.85,"q1":8.7,"q3":9.1,"lo":8.55,"hi":9.2},{"p":"F","h":"yeeB","t":1.5,"m":10.2,"q1":10.05,"q3":10.4,"lo":9.95,"hi":10.5},{"p":"F","h":"yeeB","t":1.75,"m":10.05,"q1":9.85,"q3":10.3,"lo":9.7,"hi":10.45},{"p":"F","h":"yeeB","t":3,"m":10.1,"q1":9.9,"q3":10.3,"lo":9.75,"hi":10.6},
{"p":"F","h":"yeeC","t":0,"m":6.3,"q1":6.05,"q3":6.45,"lo":6.0,"hi":6.5},{"p":"F","h":"yeeC","t":1,"m":9.05,"q1":8.8,"q3":9.35,"lo":8.7,"hi":9.5},{"p":"F","h":"yeeC","t":1.5,"m":10.45,"q1":10.25,"q3":10.6,"lo":9.9,"hi":10.95},{"p":"F","h":"yeeC","t":1.75,"m":10.45,"q1":10.25,"q3":10.55,"lo":10.1,"hi":10.65},{"p":"F","h":"yeeC","t":3,"m":10.2,"q1":10.0,"q3":10.4,"lo":9.9,"hi":10.45},
{"p":"G","h":"WT","t":0,"m":5.75,"q1":5.6,"q3":5.9,"lo":5.55,"hi":5.95},{"p":"G","h":"WT","t":1,"m":8.45,"q1":8.3,"q3":8.65,"lo":8.15,"hi":8.7},{"p":"G","h":"WT","t":1.5,"m":10.1,"q1":9.9,"q3":10.35,"lo":9.7,"hi":10.75},{"p":"G","h":"WT","t":1.75,"m":9.7,"q1":9.55,"q3":9.9,"lo":9.5,"hi":9.95},{"p":"G","h":"WT","t":3,"m":9.55,"q1":9.4,"q3":9.9,"lo":9.0,"hi":10.0},
{"p":"G","h":"dnmA","t":0,"m":5.75,"q1":5.6,"q3":5.9,"lo":5.55,"hi":5.95},{"p":"G","h":"dnmA","t":1,"m":8.4,"q1":8.3,"q3":8.6,"lo":8.2,"hi":8.7},{"p":"G","h":"dnmA","t":1.5,"m":9.85,"q1":9.7,"q3":10.1,"lo":9.6,"hi":10.2},{"p":"G","h":"dnmA","t":1.75,"m":10.05,"q1":9.8,"q3":10.3,"lo":9.7,"hi":10.4},{"p":"G","h":"dnmA","t":3,"m":9.8,"q1":9.5,"q3":10.1,"lo":9.3,"hi":10.3},
{"p":"G","h":"yeeB","t":0,"m":5.7,"q1":5.6,"q3":5.85,"lo":5.5,"hi":5.9},{"p":"G","h":"yeeB","t":1,"m":8.5,"q1":8.3,"q3":8.65,"lo":8.25,"hi":8.75},{"p":"G","h":"yeeB","t":1.5,"m":9.95,"q1":9.8,"q3":10.2,"lo":9.7,"hi":10.3},{"p":"G","h":"yeeB","t":1.75,"m":10.1,"q1":9.85,"q3":10.35,"lo":9.75,"hi":10.45},{"p":"G","h":"yeeB","t":3,"m":10.25,"q1":10.0,"q3":10.45,"lo":9.9,"hi":10.5},
{"p":"G","h":"yeeC","t":0,"m":5.8,"q1":5.65,"q3":5.92,"lo":5.6,"hi":5.95},{"p":"G","h":"yeeC","t":1,"m":8.55,"q1":8.35,"q3":8.7,"lo":8.25,"hi":8.85},{"p":"G","h":"yeeC","t":1.5,"m":10.15,"q1":9.9,"q3":10.35,"lo":9.8,"hi":10.5},{"p":"G","h":"yeeC","t":1.75,"m":10.25,"q1":10.0,"q3":10.4,"lo":9.9,"hi":10.55},{"p":"G","h":"yeeC","t":3,"m":10.05,"q1":9.8,"q3":10.3,"lo":9.7,"hi":10.4}
]
},
"columns": 4,
"spacing": {"row": 32, "column": 7},
"bounds": "flush",
"align": "all",
"resolve": {"scale": {"x": "independent", "y": "independent", "color": "shared"}, "legend": {"color": "shared"}},
"concat": [
{
 "width": 198, "height": 198,
 "title": {"text": "Uninfected", "offset": 12},
 "data": {"name": "od"},
 "transform": [{"filter": "datum.p == 'A'"}],
 "encoding": {
  "x": {"field": "t", "type": "quantitative", "scale": {"domain": [0, 3.18], "nice": false, "zero": false}, "axis": {"values": [0, 1, 2, 3], "title": null}},
  "y": {"field": "y", "type": "quantitative", "scale": {"domain": [-0.008, 0.465], "nice": false, "zero": false}, "axis": {"values": [0, 0.1, 0.2, 0.3, 0.4], "format": ".1f", "titlePadding": -2}, "title": "OD600"},
  "color": {"field": "h", "type": "nominal", "scale": {"domain": ["WT", "dnmA", "yeeB", "yeeC"], "range": ["#D95F0E", "#56B4E9", "#009E73", "#CC79A7"]}, "legend": {"title": "Host", "orient": "none", "legendX": 175, "legendY": -79, "direction": "horizontal", "titleOrient": "left", "titlePadding": 12, "labelExpr": "datum.label == 'WT' ? 'WT' : 'Δ' + datum.label", "encode": {"labels": {"update": {"fontStyle": {"signal": "datum.value == 'WT' ? 'normal' : 'italic'"}}}}}}
 },
 "layer": [
  {"mark": {"type": "line", "strokeWidth": 1, "clip": true}},
  {"mark": {"type": "errorbar", "ticks": true, "clip": true}, "encoding": {"yError": {"field": "e"}}},
  {"mark": {"type": "point", "filled": true, "size": 100, "opacity": 1, "stroke": "#222", "strokeWidth": 0.8, "clip": true}},
  {"transform": [{"filter": "datum.t == 0 && datum.h == 'WT'"}], "mark": {"type": "text", "fontSize": 25, "fontWeight": "bold", "align": "left", "baseline": "top"}, "encoding": {"x": {"datum": 0.06}, "y": {"datum": 0.452}, "text": {"value": "A"}, "color": {"value": "#000"}}}
 ]
},
{
 "width": 198, "height": 198,
 "title": {"text": ["Bacillus phage Nf", "\u200b 0 DnmA Sites"]},
 "data": {"name": "od"},
 "transform": [{"filter": "datum.p == 'B'"}],
 "encoding": {
  "x": {"field": "t", "type": "quantitative", "scale": {"domain": [0, 3.18], "nice": false, "zero": false}, "axis": {"values": [0, 1, 2, 3], "title": null}},
  "y": {"field": "y", "type": "quantitative", "scale": {"domain": [-0.008, 0.465], "nice": false, "zero": false}, "axis": null},
  "color": {"field": "h", "type": "nominal", "scale": {"domain": ["WT", "dnmA", "yeeB", "yeeC"], "range": ["#D95F0E", "#56B4E9", "#009E73", "#CC79A7"]}, "legend": {"title": "Host", "orient": "none", "legendX": 175, "legendY": -79, "direction": "horizontal", "titleOrient": "left", "titlePadding": 12, "labelExpr": "datum.label == 'WT' ? 'WT' : 'Δ' + datum.label", "encode": {"labels": {"update": {"fontStyle": {"signal": "datum.value == 'WT' ? 'normal' : 'italic'"}}}}}}
 },
 "layer": [
  {"mark": {"type": "line", "strokeWidth": 1, "clip": true}},
  {"mark": {"type": "errorbar", "ticks": true, "clip": true}, "encoding": {"yError": {"field": "e"}}},
  {"mark": {"type": "point", "filled": true, "size": 100, "opacity": 1, "stroke": "#222", "strokeWidth": 0.8, "clip": true}},
  {"transform": [{"filter": "datum.t == 0 && datum.h == 'WT'"}], "mark": {"type": "text", "fontSize": 25, "fontWeight": "bold", "align": "left", "baseline": "top"}, "encoding": {"x": {"datum": 0.06}, "y": {"datum": 0.452}, "text": {"value": "B"}, "color": {"value": "#000"}}}
 ]
},
{
 "width": 198, "height": 198,
 "title": {"text": ["Bacillus virus Φ29", "\u200b 3 DnmA Sites"]},
 "data": {"name": "od"},
 "transform": [{"filter": "datum.p == 'C'"}],
 "encoding": {
  "x": {"field": "t", "type": "quantitative", "scale": {"domain": [0, 3.18], "nice": false, "zero": false}, "axis": {"values": [0, 1, 2, 3], "title": null}},
  "y": {"field": "y", "type": "quantitative", "scale": {"domain": [-0.008, 0.465], "nice": false, "zero": false}, "axis": null},
  "color": {"field": "h", "type": "nominal", "scale": {"domain": ["WT", "dnmA", "yeeB", "yeeC"], "range": ["#D95F0E", "#56B4E9", "#009E73", "#CC79A7"]}, "legend": {"title": "Host", "orient": "none", "legendX": 175, "legendY": -79, "direction": "horizontal", "titleOrient": "left", "titlePadding": 12, "labelExpr": "datum.label == 'WT' ? 'WT' : 'Δ' + datum.label", "encode": {"labels": {"update": {"fontStyle": {"signal": "datum.value == 'WT' ? 'normal' : 'italic'"}}}}}}
 },
 "layer": [
  {"mark": {"type": "line", "strokeWidth": 1, "clip": true}},
  {"mark": {"type": "errorbar", "ticks": true, "clip": true}, "encoding": {"yError": {"field": "e"}}},
  {"mark": {"type": "point", "filled": true, "size": 100, "opacity": 1, "stroke": "#222", "strokeWidth": 0.8, "clip": true}},
  {"transform": [{"filter": "datum.t == 0 && datum.h == 'WT'"}], "mark": {"type": "text", "fontSize": 25, "fontWeight": "bold", "align": "left", "baseline": "top"}, "encoding": {"x": {"datum": 0.06}, "y": {"datum": 0.452}, "text": {"value": "C"}, "color": {"value": "#000"}}}
 ]
},
{
 "width": 198, "height": 198,
 "title": {"text": ["Bacillus phage SBS-ΦJ", "\u200b 44 DnmA Sites"]},
 "data": {"name": "od"},
 "transform": [{"filter": "datum.p == 'D'"}],
 "encoding": {
  "x": {"field": "t", "type": "quantitative", "scale": {"domain": [0, 3.18], "nice": false, "zero": false}, "axis": {"values": [0, 1, 2, 3], "title": null}},
  "y": {"field": "y", "type": "quantitative", "scale": {"domain": [-0.008, 0.465], "nice": false, "zero": false}, "axis": null},
  "color": {"field": "h", "type": "nominal", "scale": {"domain": ["WT", "dnmA", "yeeB", "yeeC"], "range": ["#D95F0E", "#56B4E9", "#009E73", "#CC79A7"]}, "legend": {"title": "Host", "orient": "none", "legendX": 175, "legendY": -79, "direction": "horizontal", "titleOrient": "left", "titlePadding": 12, "labelExpr": "datum.label == 'WT' ? 'WT' : 'Δ' + datum.label", "encode": {"labels": {"update": {"fontStyle": {"signal": "datum.value == 'WT' ? 'normal' : 'italic'"}}}}}}
 },
 "layer": [
  {"mark": {"type": "line", "strokeWidth": 1, "clip": true}},
  {"mark": {"type": "errorbar", "ticks": true, "clip": true}, "encoding": {"yError": {"field": "e"}}},
  {"mark": {"type": "point", "filled": true, "size": 100, "opacity": 1, "stroke": "#222", "strokeWidth": 0.8, "clip": true}},
  {"transform": [{"filter": "datum.t == 0 && datum.h == 'WT'"}], "mark": {"type": "text", "fontSize": 25, "fontWeight": "bold", "align": "left", "baseline": "top"}, "encoding": {"x": {"datum": 0.06}, "y": {"datum": 0.452}, "text": {"value": "D"}, "color": {"value": "#000"}}}
 ]
},
{
 "width": 198, "height": 198,
 "view": {"stroke": null},
 "data": {"values": [{"p": "none"}]},
 "mark": {"type": "point", "opacity": 0},
 "encoding": {}
},
{
 "width": 198, "height": 198,
 "data": {"name": "eop"},
 "transform": [{"filter": "datum.p == 'E'"}],
 "encoding": {
  "x": {"field": "t", "type": "quantitative", "scale": {"domain": [0, 3.18], "nice": false, "zero": false}, "axis": {"values": [0, 1, 2, 3], "title": null, "labelPadding": 1}},
  "color": {"field": "h", "type": "nominal", "scale": {"domain": ["WT", "dnmA", "yeeB", "yeeC"], "range": ["#D95F0E", "#56B4E9", "#009E73", "#CC79A7"]}, "legend": {"title": "Host", "orient": "none", "legendX": 175, "legendY": -79, "direction": "horizontal", "titleOrient": "left", "titlePadding": 12, "labelExpr": "datum.label == 'WT' ? 'WT' : 'Δ' + datum.label", "encode": {"labels": {"update": {"fontStyle": {"signal": "datum.value == 'WT' ? 'normal' : 'italic'"}}}}}}
 },
 "layer": [
  {"mark": {"type": "line", "strokeWidth": 2, "clip": true}, "encoding": {"y": {"field": "m", "type": "quantitative", "title": "E.O.P. (Log)", "scale": {"domain": [4.73, 11.81], "nice": false, "zero": false}, "axis": {"values": [5, 6, 7, 8, 9, 10, 11]}}}},
  {"mark": {"type": "errorbar", "ticks": true, "thickness": 1.5, "clip": true}, "encoding": {"y": {"field": "lo", "type": "quantitative", "title": "E.O.P. (Log)", "axis": {"values": [5, 6, 7, 8, 9, 10, 11]}}, "y2": {"field": "hi"}}},
  {"mark": {"type": "bar", "size": 10, "stroke": "#333", "strokeWidth": 1, "clip": true}, "encoding": {"y": {"field": "q1", "type": "quantitative", "title": "E.O.P. (Log)", "axis": {"values": [5, 6, 7, 8, 9, 10, 11]}}, "y2": {"field": "q3"}}},
  {"mark": {"type": "tick", "orient": "horizontal", "size": 10, "thickness": 1.2, "clip": true}, "encoding": {"y": {"field": "m", "type": "quantitative", "title": "E.O.P. (Log)", "axis": {"values": [5, 6, 7, 8, 9, 10, 11]}}, "color": {"value": "#222"}}},
  {"transform": [{"filter": "datum.t == 0 && datum.h == 'WT'"}], "mark": {"type": "text", "fontSize": 25, "fontWeight": "bold", "align": "left", "baseline": "top"}, "encoding": {"x": {"datum": 0.06}, "y": {"datum": 11.63, "title": "E.O.P. (Log)", "axis": {"values": [5, 6, 7, 8, 9, 10, 11]}}, "text": {"value": "E"}, "color": {"value": "#000"}}}
 ]
},
{
 "width": 198, "height": 198,
 "data": {"name": "eop"},
 "transform": [{"filter": "datum.p == 'F'"}],
 "encoding": {
  "x": {"field": "t", "type": "quantitative", "scale": {"domain": [0, 3.18], "nice": false, "zero": false}, "axis": {"values": [0, 1, 2, 3], "title": "Time (Hour)", "titlePadding": 0, "labelPadding": 1}},
  "color": {"field": "h", "type": "nominal", "scale": {"domain": ["WT", "dnmA", "yeeB", "yeeC"], "range": ["#D95F0E", "#56B4E9", "#009E73", "#CC79A7"]}, "legend": {"title": "Host", "orient": "none", "legendX": 175, "legendY": -79, "direction": "horizontal", "titleOrient": "left", "titlePadding": 12, "labelExpr": "datum.label == 'WT' ? 'WT' : 'Δ' + datum.label", "encode": {"labels": {"update": {"fontStyle": {"signal": "datum.value == 'WT' ? 'normal' : 'italic'"}}}}}}
 },
 "layer": [
  {"mark": {"type": "line", "strokeWidth": 2, "clip": true}, "encoding": {"y": {"field": "m", "type": "quantitative", "scale": {"domain": [4.73, 11.81], "nice": false, "zero": false}, "axis": null}}},
  {"mark": {"type": "errorbar", "ticks": true, "thickness": 1.5, "clip": true}, "encoding": {"y": {"field": "lo", "type": "quantitative", "axis": null}, "y2": {"field": "hi"}}},
  {"mark": {"type": "bar", "size": 10, "stroke": "#333", "strokeWidth": 1, "clip": true}, "encoding": {"y": {"field": "q1", "type": "quantitative", "axis": null}, "y2": {"field": "q3"}}},
  {"mark": {"type": "tick", "orient": "horizontal", "size": 10, "thickness": 1.2, "clip": true}, "encoding": {"y": {"field": "m", "type": "quantitative", "axis": null}, "color": {"value": "#222"}}},
  {"transform": [{"filter": "datum.t == 0 && datum.h == 'WT'"}], "mark": {"type": "text", "fontSize": 25, "fontWeight": "bold", "align": "left", "baseline": "top"}, "encoding": {"x": {"datum": 0.06}, "y": {"datum": 11.63, "axis": null}, "text": {"value": "F"}, "color": {"value": "#000"}}}
 ]
},
{
 "width": 198, "height": 198,
 "data": {"name": "eop"},
 "transform": [{"filter": "datum.p == 'G'"}],
 "encoding": {
  "x": {"field": "t", "type": "quantitative", "scale": {"domain": [0, 3.18], "nice": false, "zero": false}, "axis": {"values": [0, 1, 2, 3], "title": null, "labelPadding": 1}},
  "color": {"field": "h", "type": "nominal", "scale": {"domain": ["WT", "dnmA", "yeeB", "yeeC"], "range": ["#D95F0E", "#56B4E9", "#009E73", "#CC79A7"]}, "legend": {"title": "Host", "orient": "none", "legendX": 175, "legendY": -79, "direction": "horizontal", "titleOrient": "left", "titlePadding": 12, "labelExpr": "datum.label == 'WT' ? 'WT' : 'Δ' + datum.label", "encode": {"labels": {"update": {"fontStyle": {"signal": "datum.value == 'WT' ? 'normal' : 'italic'"}}}}}}
 },
 "layer": [
  {"mark": {"type": "line", "strokeWidth": 2, "clip": true}, "encoding": {"y": {"field": "m", "type": "quantitative", "scale": {"domain": [4.73, 11.81], "nice": false, "zero": false}, "axis": null}}},
  {"mark": {"type": "errorbar", "ticks": true, "thickness": 1.5, "clip": true}, "encoding": {"y": {"field": "lo", "type": "quantitative", "axis": null}, "y2": {"field": "hi"}}},
  {"mark": {"type": "bar", "size": 10, "stroke": "#333", "strokeWidth": 1, "clip": true}, "encoding": {"y": {"field": "q1", "type": "quantitative", "axis": null}, "y2": {"field": "q3"}}},
  {"mark": {"type": "tick", "orient": "horizontal", "size": 10, "thickness": 1.2, "clip": true}, "encoding": {"y": {"field": "m", "type": "quantitative", "axis": null}, "color": {"value": "#222"}}},
  {"transform": [{"filter": "datum.t == 0 && datum.h == 'WT'"}], "mark": {"type": "text", "fontSize": 25, "fontWeight": "bold", "align": "left", "baseline": "top"}, "encoding": {"x": {"datum": 0.06}, "y": {"datum": 11.63, "axis": null}, "text": {"value": "G"}, "color": {"value": "#000"}}}
 ]
}
]
}
